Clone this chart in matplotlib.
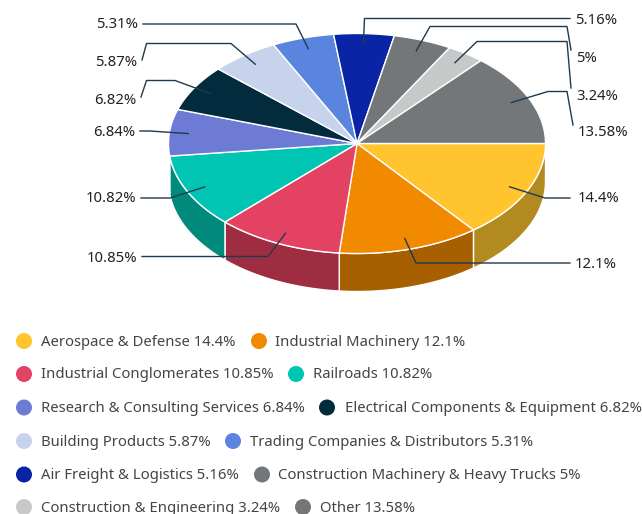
import numpy as np
import matplotlib
matplotlib.use('Agg')
import matplotlib.pyplot as plt
from matplotlib.patches import Circle, Polygon

plt.rcParams['font.family'] = ['Noto Sans', 'DejaVu Sans']

# Data
categories = ['Aerospace & Defense', 'Industrial Machinery', 'Industrial Conglomerates', 'Railroads',
              'Research & Consulting Services', 'Electrical Components & Equipment', 'Building Products',
              'Trading Companies & Distributors', 'Air Freight & Logistics',
              'Construction Machinery & Heavy Trucks', 'Construction & Engineering', 'Other']
values = [14.4, 12.1, 10.85, 10.82, 6.84, 6.82, 5.87, 5.31, 5.16, 5, 3.24, 13.58]
colors = ['#FFC42E', '#F28A00', '#E44263', '#00C5B2', '#6E7BD4', '#032B3E',
          '#C7D3EC', '#5985DE', '#0A24A6', '#737779', '#C6C9C8', '#737779']
side_colors = ['#B38A20', '#A85F00', '#9E2D42', '#008A7C', '#4D5694']

# Layout in pixels
cx, cy, rx, ry, depth = 357, 143.5, 188.5, 110, 38
text_color = '#444444'
line_color = '#1F3A4D'

# Leader line bends and label position (x, y, ha) for each slice
leader_bends = [
    [(545, 198), (570, 198)],
    [(416, 263), (570, 263)],
    [(268, 256.5), (142, 256.5)],
    [(170, 198), (141, 198)],
    [(150, 131), (140, 131)],
    [(175, 80.5), (146.5, 80.5), (141, 97)],
    [(231, 43.5), (146.5, 43.5), (142, 60)],
    [(296, 24), (143, 24)],
    [(364.5, 18.5), (570, 18.5)],
    [(430, 26.5), (567, 26.5), (571, 50)],
    [(477, 41.5), (567, 41.5), (571, 88)],
    [(548, 91.5), (567, 91.5), (573, 125)],
]
label_pos = [(578, 198, 'left'), (575, 263.5, 'left'), (137, 257, 'right'), (136, 198, 'right'),
             (135, 132, 'right'), (136, 100, 'right'), (137, 62, 'right'), (138, 24, 'right'),
             (575, 20, 'left'), (576, 57, 'left'), (576, 95, 'left'), (578, 132, 'left')]

# Legend rows: each row has two items, (circle x, text x) for the second one
legend_rows_y = [341, 374, 407.5, 441, 474.5, 507]
legend_second = [(259, 275), (296, 313), (327, 345), (233, 250), (262, 278), (303, 320)]

fig = plt.figure(figsize=(6.42, 5.14), dpi=100)
ax = fig.add_axes([0, 0, 1, 1])
ax.set_xlim(0, 642)
ax.set_ylim(514, 0)
ax.axis('off')


def rim(a0, a1):
    t = np.radians(np.linspace(a0, a1, 60))
    return np.column_stack([cx + rx * np.cos(t), cy + ry * np.sin(t)])


edges = np.concatenate([[0], np.cumsum(values)]) * 360 / sum(values)

# Side walls, only the front half shows
for i in range(len(side_colors)):
    a0, a1 = edges[i], min(edges[i + 1], 180)
    top = rim(a0, a1)
    wall = np.vstack([top, (top + [0, depth])[::-1]])
    ax.add_patch(Polygon(wall, closed=True, facecolor=side_colors[i], edgecolor='white', linewidth=1, zorder=1))

# Top slices
for i in range(len(values)):
    pts = np.vstack([[cx, cy], rim(edges[i], edges[i + 1])])
    ax.add_patch(Polygon(pts, closed=True, facecolor=colors[i], edgecolor='white', linewidth=1, zorder=2))

# Leader lines and percentage labels
for i in range(len(values)):
    mid = np.radians((edges[i] + edges[i + 1]) / 2)
    start = (cx + 0.9 * rx * np.cos(mid), cy + 0.9 * ry * np.sin(mid))
    pts = np.array([start] + leader_bends[i])
    ax.plot(pts[:, 0], pts[:, 1], color=line_color, linewidth=1, zorder=3)
    x, y, ha = label_pos[i]
    ax.text(x, y + 1, f'{values[i]:g}%', ha=ha, va='center', fontsize=10.7, color='#222222', zorder=4)

# Legend
for i in range(len(values)):
    row = i // 2
    y = legend_rows_y[row]
    if i % 2 == 0:
        mx, tx = 24, 41
    else:
        mx, tx = legend_second[row]
    ax.add_patch(Circle((mx, y), 8, facecolor=colors[i], edgecolor='none', zorder=2))
    ax.text(tx, y + 1, f'{categories[i]} {values[i]:g}%', ha='left', va='center', fontsize=10.7,
            color=text_color, zorder=4, clip_on=False)

fig.savefig('out.png', dpi=100)
